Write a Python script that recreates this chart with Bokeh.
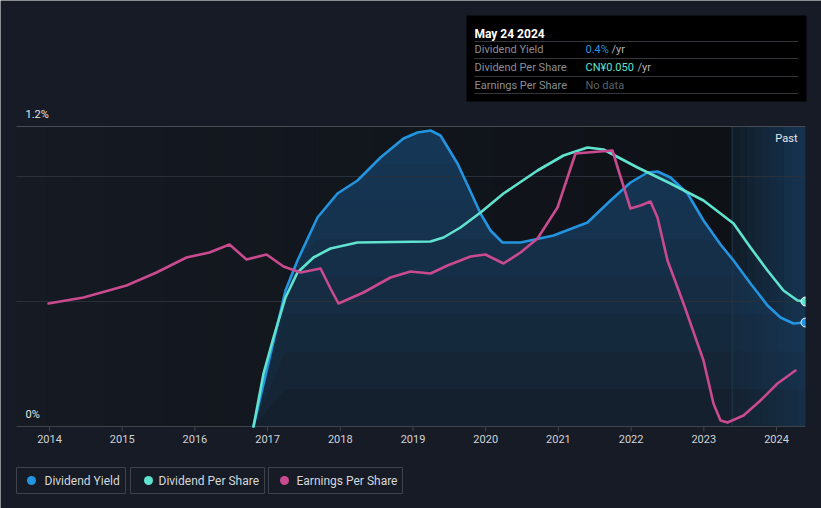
import numpy as np
from bokeh.plotting import figure
from bokeh.models import Range1d
from bokeh.core.properties import value
from bokeh.embed import file_html
from bokeh.resources import INLINE

# ---------------- data ----------------
yield_year = [2016.806, 2017.246, 2017.411, 2017.686, 2017.961, 2018.237, 2018.553, 2018.869,
              2019.062, 2019.241, 2019.378, 2019.612, 2019.791, 2019.929, 2020.066, 2020.231,
              2020.479, 2020.933, 2021.40, 2021.717, 2021.992, 2022.226, 2022.363, 2022.542,
              2022.776, 2022.996, 2023.23, 2023.409, 2023.642, 2023.876, 2024.055, 2024.234, 2024.399]
yield_pct = [0.0, 0.544, 0.664, 0.836, 0.932, 0.984, 1.076, 1.152,
             1.176, 1.184, 1.164, 1.052, 0.94, 0.852, 0.784, 0.736,
             0.736, 0.764, 0.816, 0.904, 0.976, 1.016, 1.02, 0.996,
             0.932, 0.824, 0.728, 0.664, 0.572, 0.484, 0.436, 0.412, 0.416]

dps_year = [2016.806, 2016.944, 2017.081, 2017.246, 2017.411, 2017.631, 2017.865, 2018.237,
            2019.241, 2019.42, 2019.653, 2019.929, 2020.245, 2020.713, 2021.07, 2021.40,
            2021.62, 2022.088, 2022.542, 2022.996, 2023.23, 2023.409, 2023.642, 2023.876,
            2024.096, 2024.289, 2024.399]
dps_scaled = [0.0, 0.212, 0.356, 0.516, 0.616, 0.676, 0.712, 0.736,
              0.74, 0.756, 0.796, 0.856, 0.932, 1.024, 1.084, 1.116,
              1.108, 1.036, 0.972, 0.904, 0.852, 0.812, 0.716, 0.624,
              0.544, 0.504, 0.50]

eps_year = [2013.986, 2014.468, 2015.059, 2015.472, 2015.884, 2016.20, 2016.476, 2016.71,
            2016.985, 2017.219, 2017.453, 2017.728, 2017.865, 2017.975, 2018.319, 2018.69,
            2018.966, 2019.241, 2019.475, 2019.791, 2019.997, 2020.245, 2020.479, 2020.713,
            2020.988, 2021.125, 2021.235, 2021.40, 2021.744, 2021.827, 2021.992, 2022.13,
            2022.267, 2022.363, 2022.501, 2022.721, 2022.996, 2023.133, 2023.23, 2023.326,
            2023.546, 2023.78, 2024.014, 2024.261]
eps_scaled = [0.492, 0.516, 0.564, 0.616, 0.676, 0.696, 0.728, 0.668,
              0.688, 0.64, 0.616, 0.632, 0.552, 0.492, 0.536, 0.596,
              0.62, 0.612, 0.644, 0.68, 0.688, 0.652, 0.696, 0.752,
              0.876, 0.996, 1.092, 1.096, 1.104, 1.024, 0.872, 0.884,
              0.90, 0.836, 0.664, 0.492, 0.264, 0.092, 0.024, 0.016,
              0.044, 0.104, 0.172, 0.224]

year_ticks = list(range(2014, 2025))
year_labels = [str(y) for y in year_ticks]
y_label_values = [1.2, 0.0]
y_label_texts = ["1.2%", "0%"]
grid_values = [0.5, 1.0]
y_top = 1.2
past_start = 2023.39
last_date = 2024.4

legend_labels = ["Dividend Yield", "Dividend Per Share", "Earnings Per Share"]
tooltip_title = "May 24 2024"
tooltip_rows = ["Dividend Yield", "Dividend Per Share", "Earnings Per Share"]
tooltip_values = ["0.4%", "CN¥0.050", "No data"]

# ---------------- layout / style ----------------
W, H = 821, 508
PX_2014, PX_PER_YEAR = 49.0, 72.7
PY_ZERO, PX_PER_UNIT = 426.0, 250.0
x0 = 2014 - PX_2014 / PX_PER_YEAR
y0 = -(H - PY_ZERO) / PX_PER_UNIT


def X(px):
    return x0 + px / PX_PER_YEAR


def Y(py):
    return (PY_ZERO - py) / PX_PER_UNIT


BG = "#161b25"
BLUE = "#2394df"
TEAL = "#5fe3cf"
PINK = "#c94a8e"
FONT = value("Roboto")

p = figure(width=W, height=H, output_backend="svg", toolbar_location=None,
           x_range=Range1d(x0, x0 + W / PX_PER_YEAR), y_range=Range1d(y0, y0 + H / PX_PER_UNIT),
           x_axis_type=None, y_axis_type=None, min_border=0)
p.background_fill_color = BG
p.border_fill_color = BG
p.outline_line_color = None
p.grid.visible = False


def mix(c1, c2, t):
    return "#%02x%02x%02x" % tuple(int(round(a + (b - a) * t)) for a, b in zip(c1, c2))


# plot area background: horizontal gradient getting darker to the right
left_edge = X(16)
n = 24
edges = np.linspace(left_edge, past_start, n + 1)
cols = [mix((21, 26, 35), (14, 17, 22), (i + 0.5) / n) for i in range(n)]
p.quad(left=edges[:-1], right=edges[1:] + 0.002, bottom=0, top=y_top, fill_color=cols, line_color=None)
# past region
m = 10
pedges = np.linspace(past_start, last_date, m + 1)
pcols = [mix((17, 25, 34), (19, 40, 60), (i + 0.5) / m) for i in range(m)]
p.quad(left=pedges[:-1], right=pedges[1:] + 0.002, bottom=0, top=y_top, fill_color=pcols, line_color=None)

# dividend-yield area with vertical gradient
yy = np.array(yield_pct)
p.varea(x=yield_year, y1=0, y2=yield_pct, fill_color="#14202d", fill_alpha=1.0)
for lvl in np.arange(0.15, 1.2, 0.15):
    p.varea(x=yield_year, y1=np.minimum(yy, lvl), y2=yy, fill_color="#1e4669", fill_alpha=0.15)
# past overlay
po = [0.05 + 0.3 * (i + 0.5) / m for i in range(m)]
p.quad(left=pedges[:-1], right=pedges[1:] + 0.002, bottom=0, top=y_top, fill_color="#1b4c78",
       fill_alpha=po, line_color=None)
p.segment(x0=[past_start], x1=[past_start], y0=[0], y1=[y_top], line_color="#22384c", line_width=1)

# grid & axis
p.segment(x0=[left_edge] * 2, x1=[last_date] * 2, y0=grid_values, y1=grid_values,
          line_color="#2a3039", line_width=1)
p.segment(x0=[left_edge], x1=[last_date], y0=[y_top], y1=[y_top], line_color="#464b54", line_width=1)
p.segment(x0=[left_edge], x1=[last_date], y0=[0], y1=[0], line_color="#3e434c", line_width=1)
p.segment(x0=year_ticks, x1=year_ticks, y0=[0] * len(year_ticks), y1=[Y(431)] * len(year_ticks),
          line_color="#3e434c", line_width=1)
p.text(x=year_ticks, y=[Y(438)] * len(year_ticks), text=year_labels, text_align="center",
       text_baseline="middle", text_font=FONT, text_font_size="11px", text_color="#d0d3d8")
p.text(x=[X(25)] * 2, y=[Y(114), Y(414)], text=y_label_texts, text_align="left",
       text_baseline="middle", text_font=FONT, text_font_size="11px", text_color="#e6e6e6")
p.text(x=[X(797)], y=[Y(138)], text=["Past"], text_align="right", text_baseline="middle",
       text_font=FONT, text_font_size="11px", text_color="#e8e8e8")

# lines
p.line(yield_year, yield_pct, line_color=BLUE, line_width=2.6, line_join="round", line_cap="round")
p.line(dps_year, dps_scaled, line_color=TEAL, line_width=2.6, line_join="round", line_cap="round")
p.line(eps_year, eps_scaled, line_color=PINK, line_width=2.6, line_join="round", line_cap="round")
p.scatter([yield_year[-1]], [yield_pct[-1]], size=9, fill_color=BLUE, line_color="#ffffff", line_width=1)
p.scatter([dps_year[-1]], [dps_scaled[-1]], size=9, fill_color=TEAL, line_color="#ffffff", line_width=1)
# clip at the right edge of the plot area
p.quad(left=[last_date + 0.001], right=[X(W)], bottom=[Y(440)], top=[Y(110)], fill_color=BG, line_color=None)

# tooltip box
p.quad(left=[X(466)], right=[X(806)], bottom=[Y(101)], top=[Y(15)], fill_color="#000000", line_color=None)
p.text(x=[X(474)], y=[Y(33)], text=[tooltip_title], text_baseline="middle", text_font=FONT,
       text_font_size="12px", text_font_style="bold", text_color="#ffffff")
sep = [41, 58, 76, 93]
p.segment(x0=[X(474)] * 4, x1=[X(798)] * 4, y0=[Y(s) for s in sep], y1=[Y(s) for s in sep],
          line_color="#33363b", line_width=1)
row_y = [Y(49), Y(67), Y(85)]
p.text(x=[X(474)] * 3, y=row_y, text=tooltip_rows, text_baseline="middle", text_font=FONT,
       text_font_size="11px", text_color="#8a8e94")
p.text(x=[X(585)] * 3, y=row_y, text=tooltip_values, text_baseline="middle", text_font=FONT,
       text_font_size="11px", text_color=[BLUE, TEAL, "#5c6066"])
p.text(x=[X(611), X(637)], y=row_y[:2], text=["/yr", "/yr"], text_baseline="middle", text_font=FONT,
       text_font_size="11px", text_color="#b0b3b8")

# legend
box_l = [16, 130, 268]
box_r = [125, 264, 402]
p.quad(left=[X(v) for v in box_l], right=[X(v) for v in box_r], bottom=[Y(493)] * 3, top=[Y(467)] * 3,
       fill_color=None, line_color="#3d434c", line_width=1)
p.scatter([X(31), X(148), X(284)], [Y(480)] * 3, size=9, fill_color=[BLUE, TEAL, PINK], line_color=None)
p.text(x=[X(44), X(158), X(296)], y=[Y(480)] * 3, text=legend_labels, text_baseline="middle",
       text_font=FONT, text_font_size="12px", text_color="#d5d7db")

open("out.html", "w").write(file_html(p, INLINE))
